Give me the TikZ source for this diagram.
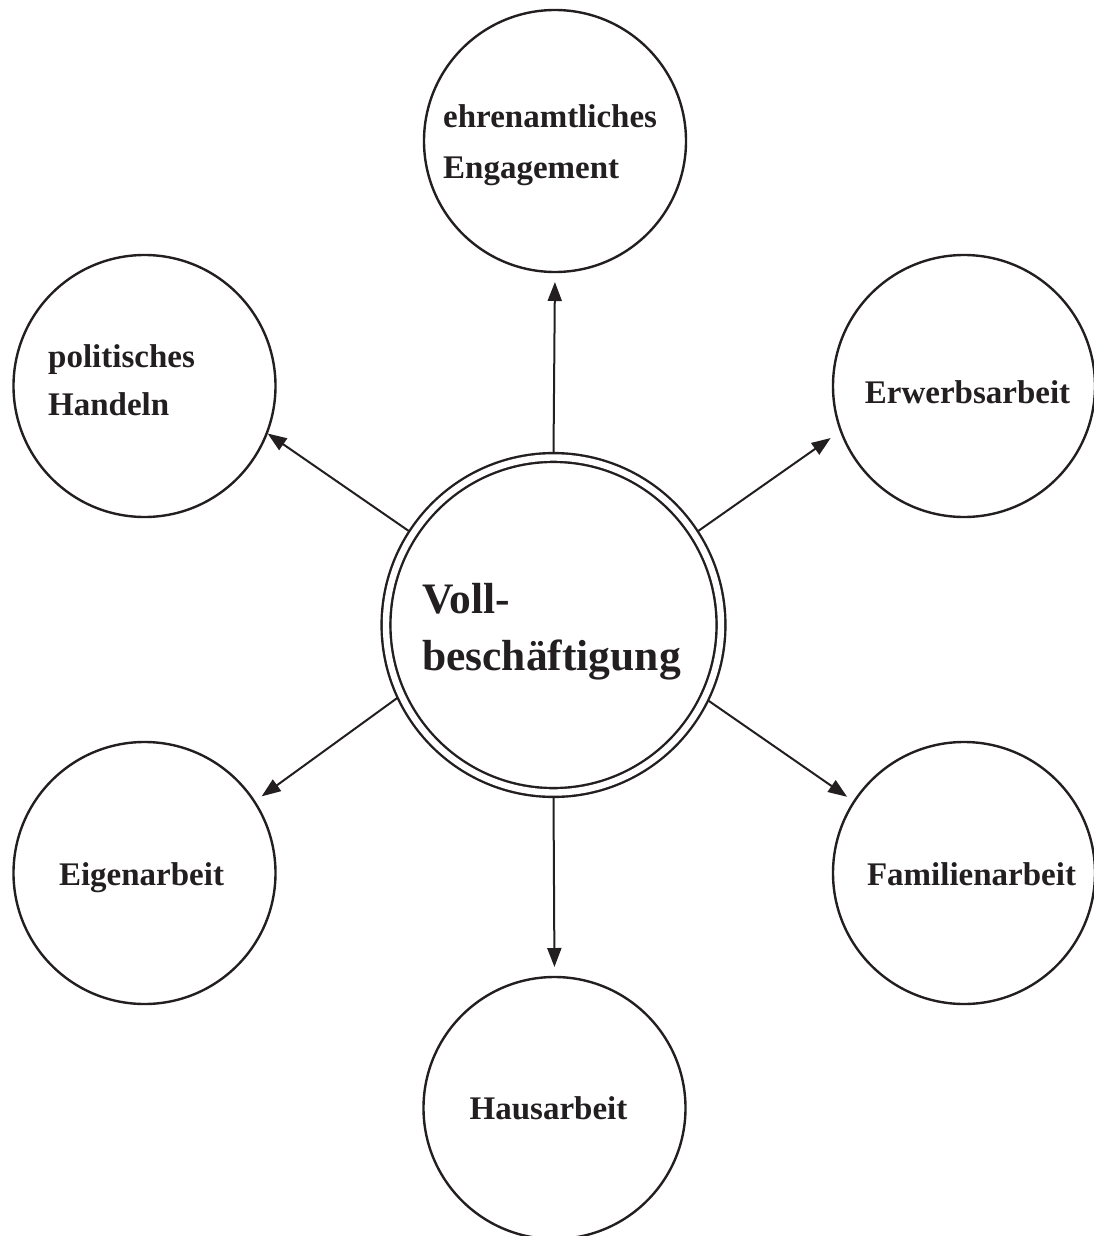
\documentclass[tikz,border=0pt]{standalone}
\usepackage{fontspec}
\setmainfont{Liberation Serif}
\usetikzlibrary{arrows.meta}
\definecolor{ink}{RGB}{35,31,32}
\begin{document}
\begin{tikzpicture}[x=1pt,y=-1pt,
  sat/.style={circle,draw=ink,line width=2.4pt,minimum size=262pt,inner sep=0pt,outer sep=0pt},
  hub/.style={circle,draw=ink,line width=2.4pt,double,double distance=6.4pt,minimum size=335pt,inner sep=0pt,outer sep=4.4pt},
  lbl/.style={inner sep=0pt,text=ink,font=\fontsize{33}{40}\selectfont\bfseries},
  hublbl/.style={inner sep=0pt,text=ink,font=\fontsize{43.5}{55}\selectfont\bfseries},
  link/.style={draw=ink,line width=2pt,-{Triangle[length=19pt,width=14pt]}}]
\useasboundingbox (0,0) rectangle (1093,1236);
% circles
\node[hub] (c) at (553.5,625) {};
\node[sat] (top) at (555,141) {};
\node[sat] (ul) at (144.5,386) {};
\node[sat] (ur) at (964,386) {};
\node[sat] (ll) at (144.5,873) {};
\node[sat] (lr) at (964,873) {};
\node[sat] (bot) at (554.5,1108) {};
% labels
\node[hublbl,anchor=base west] (c1) at (422,613) {Voll-};
\node[hublbl,anchor=base west] (c2) at (422,670) {beschäftigung};
\node[lbl,anchor=base west] (t1) at (443,128) {ehrenamtliches};
\node[lbl,anchor=base west] (t2) at (443,178) {Engagement};
\node[lbl,anchor=base west] (ul1) at (48,367) {politisches};
\node[lbl,anchor=base west] (ul2) at (48,415) {Handeln};
\node[lbl,anchor=base] (urt) at (967.5,403) {Erwerbsarbeit};
\node[lbl,anchor=base] (llt) at (141.5,885) {Eigenarbeit};
\node[lbl,anchor=base] (lrt) at (971.5,885) {Familienarbeit};
\node[lbl,anchor=base] (bt) at (548.5,1119) {Hausarbeit};
% connectors
\draw[link,shorten >=10pt] (c.north) -- (top.south);
\draw[link,shorten >=10pt] (c.south) -- (bot.north);
\draw[link,shorten >=1pt] (c.147.3) -- (ul.-21.5);
\draw[link,shorten >=12.5pt] (c.33.2) -- (ur.200.5);
\draw[link,shorten >=9pt] (c.205.8) -- (ll.33);
\draw[link,shorten >=8.5pt] (c.-26.4) -- (lr.147.1);
\end{tikzpicture}
\end{document}
